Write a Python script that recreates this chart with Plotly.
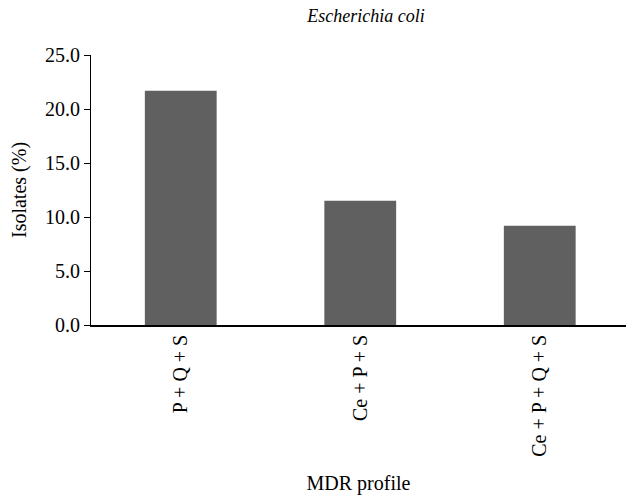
import plotly.graph_objects as go

categories = ["P + Q + S", "Ce + P + S", "Ce + P + Q + S"]
values = [21.7, 11.5, 9.2]
y_ticks = [0, 5, 10, 15, 20, 25]
y_tick_labels = ["0.0", "5.0", "10.0", "15.0", "20.0", "25.0"]

FONT = "'Liberation Serif', 'Times New Roman', 'DejaVu Serif', serif"

fig = go.Figure(go.Bar(
    x=list(range(len(categories))), y=values,
    marker=dict(color="#606060", line=dict(width=0)),
    width=0.4,
))

fig.update_layout(
    width=626, height=503,
    margin=dict(l=91, r=0, t=55, b=178),
    plot_bgcolor="white", paper_bgcolor="white",
    font=dict(family=FONT, size=20, color="black"),
    showlegend=False,
    title=dict(text="<i>Escherichia coli</i>", x=366/626, xanchor="center",
               y=1 - 16/503, yanchor="middle", font=dict(family=FONT, size=18)),
    bargap=0.6,
)
fig.update_xaxes(
    range=[-0.5, -0.5 + 535/179.5],
    tickmode="array", tickvals=list(range(len(categories))), ticktext=categories,
    tickangle=-90, showline=True, linecolor="black", linewidth=1.5,
    ticks="", showgrid=False, zeroline=False,
    title=dict(text="MDR profile", font=dict(family=FONT, size=20), standoff=20),
)
fig.update_yaxes(
    range=[0, 25], tickmode="array", tickvals=y_ticks, ticktext=y_tick_labels,
    showline=True, linecolor="black", linewidth=1.2, ticks="outside", ticklen=6,
    tickcolor="black", showgrid=False, zeroline=False,
    title=dict(text="Isolates (%)", font=dict(family=FONT, size=20), standoff=12),
)
fig.write_html("out.html", config={"displayModeBar": False},
               post_script="document.body.style.margin='0';document.body.style.overflow='hidden';")
